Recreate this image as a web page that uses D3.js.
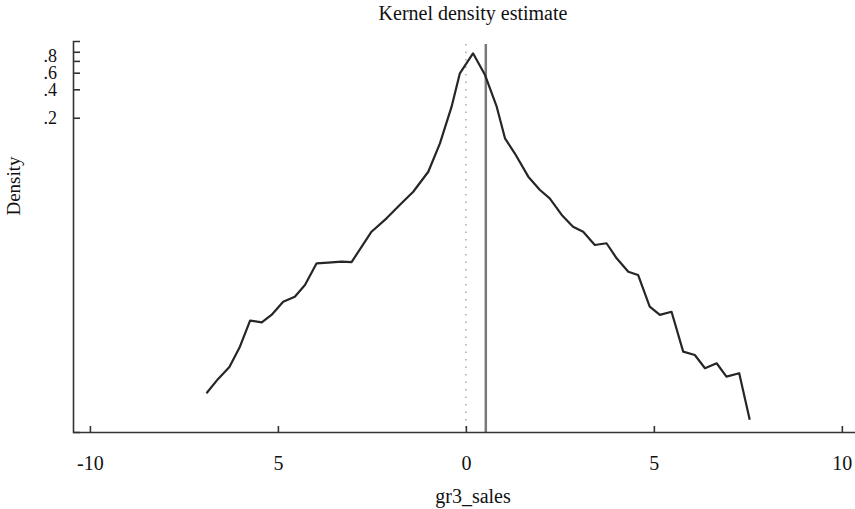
<!DOCTYPE html>
<html>
<head>
<meta charset="utf-8">
<script src="https://cdn.jsdelivr.net/npm/d3@7"></script>
<style>
  body { margin: 0; background: #fff; }
  text { font-family: "Liberation Serif", "Times New Roman", serif; fill: #111; }
</style>
</head>
<body>
<div id="main-container"></div>
<script>
// kernel density curve
var gridX = [-6.90, -6.59, -6.29, -6.01, -5.74, -5.43, -5.17, -4.86, -4.55, -4.28,
             -3.97, -3.66, -3.31, -3.04, -2.51, -2.11, -1.76, -1.40, -1.00, -0.69,
             -0.38, -0.16, 0.19, 0.51, 0.82, 1.04, 1.30, 1.66, 1.97, 2.23,
             2.55, 2.85, 3.12, 3.43, 3.74, 4.01, 4.32, 4.58, 4.89, 5.16,
             5.47, 5.78, 6.09, 6.36, 6.67, 6.93, 7.27, 7.55];
var density = [2.41e-4, 3.42e-4, 4.58e-4, 7.51e-4, 1.42e-3, 1.36e-3, 1.63e-3, 2.25e-3, 2.54e-3, 3.38e-3,
               5.74e-3, 5.83e-3, 5.97e-3, 5.92e-3, 1.24e-2, 1.72e-2, 2.38e-2, 3.29e-2, 5.36e-2, 0.107,
               0.262, 0.591, 0.963, 0.567, 0.262, 0.121, 0.084, 0.0475, 0.0343, 0.0280,
               0.01866, 0.01403, 0.0124, 8.97e-3, 9.36e-3, 6.49e-3, 4.68e-3, 4.32e-3, 1.99e-3, 1.63e-3,
               1.76e-3, 6.65e-4, 6.13e-4, 4.44e-4, 5.01e-4, 3.62e-4, 3.93e-4, 1.26e-4];

var xTicks = [-10, -5, 0, 5, 10];
var xTickLabels = ["-10", "5", "0", "5", "10"];
var yTicks = [0.2, 0.4, 0.6, 0.8, 1.0];
var yTickLabels = [".2", ".4", ".6", ".8", ""];

var refLineDotted = 0;     // dotted reference line
var refLineSolid = 0.53;   // solid reference line

var width = 855, height = 509;
var plotLeft = 73, plotRight = 855, plotTop = 41, plotBottom = 432;

var svg = d3.select("#main-container")
            .append("svg")
            .attr("width", width)
            .attr("height", height);

var x = d3.scaleLinear().domain([-10.45, 10.35]).range([plotLeft, plotRight]);
var y = d3.scaleLog().domain([9.37e-5, 1.3]).range([plotBottom, plotTop]);

// reference lines
svg.append("line")
    .attr("x1", x(refLineDotted)).attr("x2", x(refLineDotted))
    .attr("y1", plotTop + 3).attr("y2", plotBottom)
    .attr("stroke", "#aaa")
    .attr("stroke-width", 1.5)
    .attr("stroke-dasharray", "1.5,6");

svg.append("line")
    .attr("x1", x(refLineSolid)).attr("x2", x(refLineSolid))
    .attr("y1", plotTop + 3).attr("y2", plotBottom)
    .attr("stroke", "#7a7a7a")
    .attr("stroke-width", 2.5);

// curve
var line = d3.line()
    .x(function(d, i) { return x(gridX[i]); })
    .y(function(d) { return y(d); });

svg.append("path")
    .datum(density)
    .attr("d", line)
    .attr("fill", "none")
    .attr("stroke", "#262626")
    .attr("stroke-width", 2.2)
    .attr("stroke-linejoin", "round");

// axes
var xAxis = svg.append("g")
    .attr("transform", "translate(0," + plotBottom + ")")
    .call(d3.axisBottom(x)
        .tickValues(xTicks)
        .tickSize(-6)
        .tickSizeOuter(0)
        .tickPadding(24)
        .tickFormat(function(d, i) { return xTickLabels[i]; }));

var yAxis = svg.append("g")
    .attr("transform", "translate(" + plotLeft + ",0)")
    .call(d3.axisLeft(y)
        .tickValues(yTicks)
        .tickSize(-7)
        .tickSizeOuter(-7)
        .tickPadding(16)
        .tickFormat(function(d, i) { return yTickLabels[i]; }));

[xAxis, yAxis].forEach(function(g) {
    g.selectAll("path, line").attr("stroke", "#333").attr("stroke-width", 1.6);
    g.selectAll("text")
        .attr("font-family", "Liberation Serif, serif")
        .attr("fill", "#111");
});
xAxis.selectAll("text").attr("font-size", "20px");
yAxis.selectAll("text").attr("font-size", "18px");

// the .8 label sits a little above its tick in the original
yAxis.selectAll(".tick text")
    .filter(function(d) { return d === 0.8; })
    .attr("dy", "0.02em");

// titles
svg.append("text")
    .text("Kernel density estimate")
    .attr("x", 473).attr("y", 20)
    .attr("text-anchor", "middle")
    .attr("font-size", "20px");

svg.append("text")
    .text("gr3_sales")
    .attr("x", 473).attr("y", 503)
    .attr("text-anchor", "middle")
    .attr("font-size", "20px");

svg.append("text")
    .text("Density")
    .attr("transform", "translate(20,186) rotate(-90)")
    .attr("text-anchor", "middle")
    .attr("font-size", "19px");
</script>
</body>
</html>
